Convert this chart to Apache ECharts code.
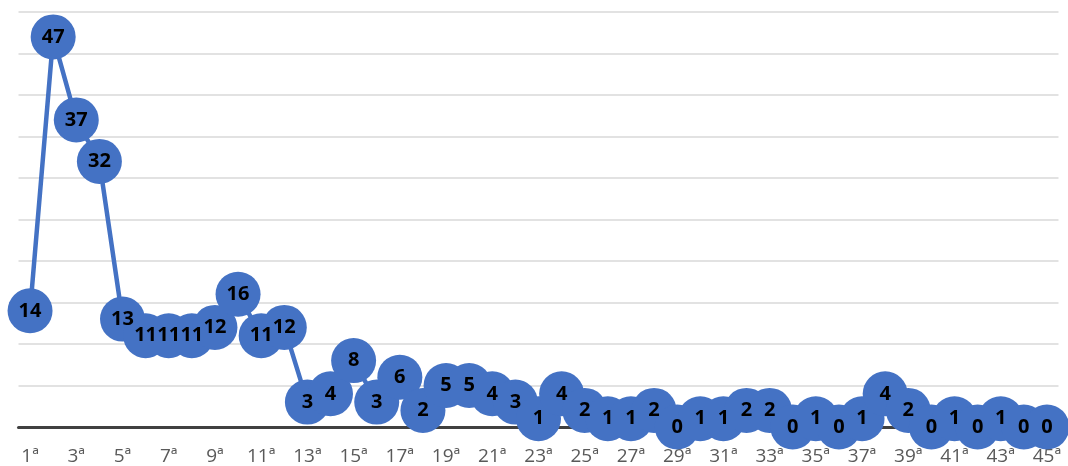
<!DOCTYPE html>
<html>
<head>
<meta charset="utf-8">
<script src="https://cdn.jsdelivr.net/npm/echarts@6/dist/echarts.min.js"></script>
<style>
  html, body { margin: 0; padding: 0; background: #fff; }
  #chart { width: 1068px; height: 466px; }
</style>
</head>
<body>
<div id="chart"></div>
<script>
// Round numbers 1ª..45ª
const categories = [];
for (let i = 1; i <= 45; i++) categories.push(i + 'ª');

// Count per round
const values = [14, 47, 37, 32, 13, 11, 11, 11, 12, 16,
                11, 12, 3, 4, 8, 3, 6, 2, 5, 5,
                4, 3, 1, 4, 2, 1, 1, 2, 0, 1,
                1, 2, 2, 0, 1, 0, 1, 4, 2, 0,
                1, 0, 1, 0, 0];

const yMin = 0, yMax = 50, yStep = 5;

const chart = echarts.init(document.getElementById('chart'), null, { renderer: 'canvas' });
chart.setOption({
  animation: false,
  grid: { left: 18.5, right: 9.5, top: 12, bottom: 38, containLabel: false },
  xAxis: {
    type: 'category',
    data: categories,
    boundaryGap: true,
    axisLine: { show: true, lineStyle: { color: '#404040', width: 3 } },
    axisTick: { show: false },
    axisLabel: {
      interval: 1,
      color: '#595959',
      fontFamily: 'Open Sans, Noto Sans, sans-serif',
      fontSize: 19,
      margin: 20
    }
  },
  yAxis: {
    type: 'value',
    min: yMin, max: yMax, interval: yStep,
    axisLine: { show: false },
    axisTick: { show: false },
    axisLabel: { show: false },
    splitLine: { lineStyle: { color: '#d9d9d9', width: 1.5 } }
  },
  series: [{
    type: 'line',
    data: values,
    symbol: 'circle',
    symbolSize: 45,
    showAllSymbol: true,
    lineStyle: { color: '#4472C4', width: 4.5 },
    itemStyle: { color: '#4472C4' },
    label: {
      show: true,
      position: 'inside',
      color: '#000',
      fontWeight: 'bold',
      fontFamily: 'Open Sans, Liberation Sans, sans-serif',
      fontSize: 20
    },
    labelLayout: { hideOverlap: false },
    emphasis: { disabled: true }
  }]
});
</script>
</body>
</html>
